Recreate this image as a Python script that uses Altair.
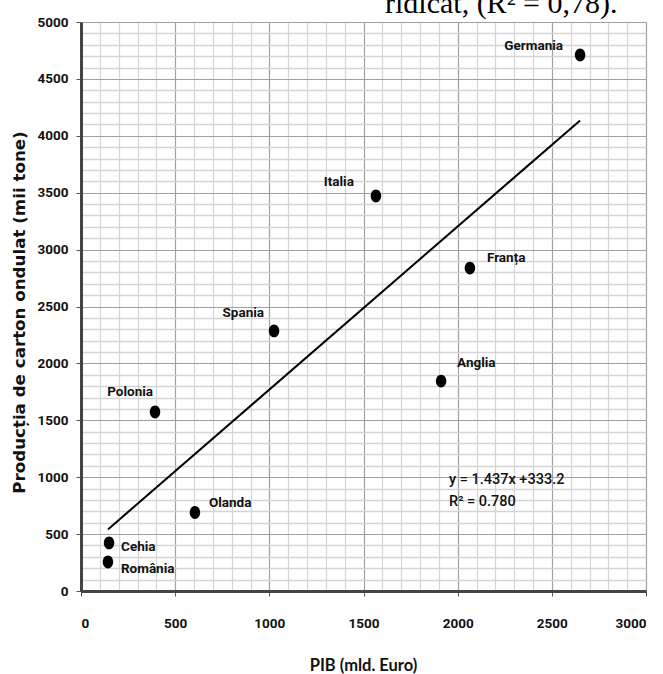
import altair as alt
import pandas as pd

countries = ["Germania", "Italia", "Franța", "Spania", "Anglia", "Polonia", "Olanda", "Cehia", "România"]
pib = [2650, 1566, 2065, 1025, 1912, 393, 605, 149, 143]
productie = [4710, 3471, 2838, 2285, 1845, 1573, 690, 422, 255]

equation_lines = ["y = 1.437x +333.2", "R² = 0.780"]
equation_anchor_pib = [1954]
equation_anchor_prod = [1040]

page_text = "ridicat, (R² = 0,78)."

# label placement (align, dx, dy) per country - styling only
label_style = {
    "Germania": ("right", -17, -9),
    "Italia": ("right", -22, -14),
    "Franța": ("left", 17, -10),
    "Spania": ("right", -10, -18),
    "Anglia": ("left", 16, -18),
    "Polonia": ("right", -2, -20),
    "Olanda": ("left", 14, -9),
    "Cehia": ("left", 12, 4),
    "România": ("left", 13, 7),
}

df = pd.DataFrame({"country": countries, "pib": pib, "prod": productie})

NARROW = "Roboto, Liberation Sans, sans-serif"
TITLE_FONT = "Lato, Open Sans, sans-serif"

major = "datum.value % 500 === 0"
common_axis = dict(
    format="d",
    labelExpr="datum.value % 500 === 0 ? datum.label : ''",
    labelOverlap=False,
    labelFont=NARROW,
    labelFontSize=13.5,
    labelFontWeight="bold",
    labelColor="#111",
    tickSize=5,
    tickColor={"condition": {"test": major, "value": "#555"}, "value": "transparent"},
    grid=True,
    gridColor={"condition": {"test": major, "value": "#a0a0a0"}, "value": "#d4d4d4"},
    domainColor="#444",
    domainWidth=3,
    titleFontWeight="bold",
    titleColor="#111",
    titleBaseline="middle",
)

x_axis = alt.Axis(
    values=list(range(0, 3001, 100)),
    labelPadding=20,
    gridWidth=1.2,
    title="PIB (mld. Euro)",
    titleFont=TITLE_FONT,
    titleFontSize=16.5,
    titleY=74,
    titleX=282,
    **common_axis,
)

y_axis = alt.Axis(
    values=list(range(0, 5001, 100)),
    labelPadding=8,
    gridWidth={"condition": {"test": major, "value": 1.0}, "value": 1.6},
    title="Producția de carton ondulat (mii tone)",
    titleFont="DejaVu Sans, sans-serif",
    titleFontSize=16.7,
    titleX=-62,
    titleY=290,
    **common_axis,
)

x_enc = alt.X("pib:Q", scale=alt.Scale(domain=[0, 3000], nice=False, zero=True), axis=x_axis)
y_enc = alt.Y("prod:Q", scale=alt.Scale(domain=[0, 5000], nice=False, zero=True), axis=y_axis)

base = alt.Chart(df)

trend = base.transform_regression("pib", "prod", method="linear").mark_line(
    color="black", strokeWidth=2
).encode(x=x_enc, y=y_enc)

ellipse = "M-1,0A1,1.22,0,1,1,1,0A1,1.22,0,1,1,-1,0Z"
points = base.mark_point(
    shape=ellipse, size=110, filled=True, color="black", opacity=1, strokeWidth=0
).encode(x=x_enc, y=y_enc)

label_layers = []
for c in countries:
    al, dx, dy = label_style[c]
    label_layers.append(
        base.transform_filter(alt.datum.country == c)
        .mark_text(align=al, baseline="middle", dx=dx, dy=dy, font=NARROW,
                   fontSize=13.5, fontWeight="bold", color="#111")
        .encode(x=x_enc, y=y_enc, text="country:N")
    )

eq_df = pd.DataFrame({"pib": equation_anchor_pib, "prod": equation_anchor_prod})
equation = alt.Chart(eq_df).mark_text(
    text=equation_lines, align="left", baseline="top", font=NARROW,
    fontSize=14.5, fontWeight=500, color="#111", lineHeight=22
).encode(x=x_enc, y=y_enc)

page_note = alt.Chart(pd.DataFrame({"t": [page_text]})).mark_text(
    align="left", baseline="alphabetic", font="Liberation Serif, Times New Roman, serif",
    fontSize=30, color="black"
).encode(x=alt.value(304), y=alt.value(-9), text="t:N")

chart = alt.layer(trend, points, *label_layers, equation, page_note).properties(
    width=565,
    height=569,
    autosize=alt.AutoSizeParams(type="none"),
    padding={"left": 81, "top": 22, "right": 17, "bottom": 83},
).configure_view(stroke="#333", strokeWidth=2).configure(background="white")

chart.save("out.html", embed_options={"renderer": "svg", "actions": False})
